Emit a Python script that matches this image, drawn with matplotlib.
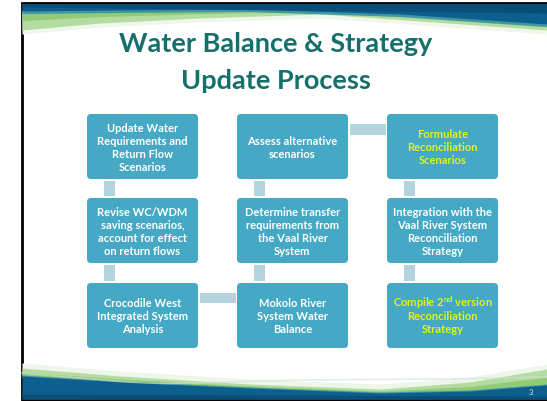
import numpy as np
import matplotlib
matplotlib.use("Agg")
import matplotlib.pyplot as plt
from matplotlib.patches import FancyBboxPatch, Rectangle

plt.rcParams['font.family'] = ['Lato', 'DejaVu Sans']
plt.rcParams['mathtext.fontset'] = 'custom'
plt.rcParams['mathtext.rm'] = 'Lato:bold'
plt.rcParams['mathtext.it'] = 'Lato:bold'
plt.rcParams['mathtext.bf'] = 'Lato:bold'

# ---- content ----
title_lines = ["Water Balance & Strategy", "Update Process"]
col1_labels = ["Update Water\nRequirements and\nReturn Flow\nScenarios",
               "Revise WC/WDM\nsaving scenarios,\naccount for effect\non return flows",
               "Crocodile West\nIntegrated System\nAnalysis"]
col2_labels = ["Assess alternative\nscenarios",
               "Determine transfer\nrequirements from\nthe Vaal River\nSystem",
               "Mokolo River\nSystem Water\nBalance"]
col3_labels = ["Formulate\nReconciliation\nScenarios",
               "Integration with the\nVaal River System\nReconciliation\nStrategy",
               "Compile 2$^{\\mathrm{nd}}$ version\nReconciliation\nStrategy"]
col3_highlight = [True, False, True]
page_number = "3"

W, H = 547, 402
fig = plt.figure(figsize=(W / 100, H / 100), dpi=100)
ax = fig.add_axes([0, 0, 1, 1])
ax.set_xlim(0, W)
ax.set_ylim(H, 0)
ax.axis('off')

# slide frame
ax.add_patch(Rectangle((21.5, 3.5), W - 21, 397, facecolor='white',
                       edgecolor='black', lw=2, zorder=0))

x = np.linspace(22, W, 300)
# top swoosh
blue_bot = np.interp(x, [22, 120, 250, 400, 547], [12, 11, 10, 15, 25])
green_bot = np.interp(x, [22, 100, 200, 320, 420, 547], [31, 24, 19, 15, 22, 31])
ax.fill_between(x, green_bot + 4, blue_bot, color='#eef7ea', lw=0, zorder=1)
ax.fill_between(x, green_bot, blue_bot, color='#b5dca0', lw=0, zorder=1)
ax.fill_between(x, (green_bot + blue_bot) / 2, blue_bot, color='#92ca76', lw=0, zorder=1)
ax.fill_between(x, blue_bot + 2.5, blue_bot - 1, color='#3f97a6', lw=0, zorder=1)
ax.fill_between(x, blue_bot, 4.5, color='#0d5f8e', lw=0, zorder=2)
ax.fill_between(x, np.interp(x, [22, 547], [8, 14]), 4.5, color='#0a4f7a', lw=0, zorder=2)

# bottom swoosh
blue_top = np.interp(x, [22, 120, 250, 380, 470, 547], [377, 383, 389, 394, 392, 386])
green_top = np.interp(x, [22, 120, 250, 380, 470, 547], [369, 377, 385, 390, 383, 370])
ax.fill_between(x, green_top - 5, blue_top, color='#eef6ea', lw=0, zorder=1)
ax.fill_between(x, green_top, blue_top, color='#b5dca0', lw=0, zorder=1)
ax.fill_between(x, (green_top + blue_top) / 2, blue_top, color='#92ca76', lw=0, zorder=1)
ax.fill_between(x, blue_top - 1, blue_top + 2.5, color='#3f97a6', lw=0, zorder=1)
ax.fill_between(x, blue_top, 400, color='#0d5f8e', lw=0, zorder=2)
ax.fill_between(x, np.interp(x, [22, 547], [395, 397]), 400, color='#0a4f7a', lw=0, zorder=2)
ax.plot(x, np.interp(x, [22, 150, 300, 450, 547], [374, 385, 381, 380, 378]),
        color='#d5dde0', lw=1.2, alpha=0.6, zorder=1)

# title
title_color = '#15706c'
ax.text(276, 44, title_lines[0], ha='center', va='center', fontsize=19.5,
        fontweight='bold', color=title_color, zorder=5)
ax.text(276, 81, title_lines[1], ha='center', va='center', fontsize=19.5,
        fontweight='bold', color=title_color, zorder=5)

# boxes
box_color = '#45a8c4'
conn_color = '#b3d4de'
col_left = [87, 237, 387]
row_top = [115, 199, 284]
bw, bh = 111, 65
line_gap = 13
columns = [col1_labels, col2_labels, col3_labels]
for ci, labels in enumerate(columns):
    for ri, lab in enumerate(labels):
        x0, y0 = col_left[ci], row_top[ri]
        ax.add_patch(FancyBboxPatch((x0 + 4, y0 + 4), bw - 8, bh - 8,
                                    boxstyle="round,pad=4", facecolor=box_color,
                                    edgecolor='none', zorder=3))
        color = 'white'
        if ci == 2 and col3_highlight[ri]:
            color = '#e3f21e'
        lines = lab.split("\n")
        n = len(lines)
        for li, line in enumerate(lines):
            yc = y0 + bh / 2 + (li - (n - 1) / 2) * line_gap + 4
            ax.text(x0 + bw / 2, yc, line, ha='center', va='baseline',
                    fontsize=8, fontweight='bold', color=color, zorder=4)

# vertical connectors
for ci in range(3):
    for ri in range(2):
        x0 = col_left[ci] + 17
        y0 = row_top[ri] + bh + 2
        ax.add_patch(Rectangle((x0, y0), 11, row_top[ri + 1] - y0 - 2,
                               facecolor=conn_color, edgecolor='none', zorder=3))
# horizontal connectors
ax.add_patch(Rectangle((col_left[0] + bw + 2, 294), col_left[1] - col_left[0] - bw - 3, 10,
                       facecolor=conn_color, edgecolor='none', zorder=3))
ax.add_patch(Rectangle((col_left[1] + bw + 2, 125), col_left[2] - col_left[1] - bw - 3, 11,
                       facecolor=conn_color, edgecolor='none', zorder=3))

ax.text(531, 393, page_number, ha='center', va='center', fontsize=5.5,
        color='#cfe3ea', zorder=5)

fig.savefig('out.png', dpi=100)
